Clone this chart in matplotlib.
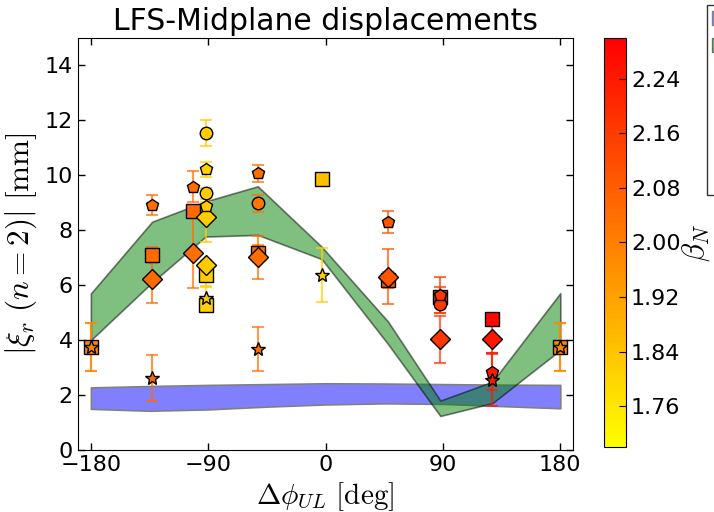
import numpy as np
import matplotlib
matplotlib.use('Agg')
import matplotlib.pyplot as plt
from matplotlib.patches import Patch
from matplotlib.lines import Line2D

plt.rcParams['mathtext.fontset'] = 'cm'
plt.rcParams['font.family'] = ['DejaVu Sans']

# measured points, grouped by marker shape: phase [deg], |xi_r| [mm], error, beta_N
sq_phi = [-180, -133, -102, -92, -92, -52, -3, 48, 88, 128, 180]
sq_xi = [3.76, 7.10, 8.70, 6.37, 5.28, 7.16, 9.87, 6.19, 5.57, 4.76, 3.76]
sq_err = [0.88, 0.30, 0.20, 0.40, 0.20, 0.30, 0.0, 0.30, 0.35, 0.20, 0.88]
sq_beta = [1.98, 2.05, 2.05, 1.82, 1.81, 2.04, 1.85, 2.11, 2.17, 2.28, 1.98]

di_phi = [-133, -102, -92, -92, -52, 48, 88, 128]
di_xi = [6.22, 7.18, 8.49, 6.73, 7.01, 6.31, 4.03, 4.04]
di_err = [0.86, 1.27, 0.93, 0.20, 0.79, 1.00, 0.85, 0.50]
di_beta = [2.05, 2.04, 1.82, 1.82, 2.04, 2.10, 2.17, 2.25]

ci_phi = [-92, -92, -52, 88]
ci_xi = [11.53, 9.34, 8.98, 5.31]
ci_err = [0.47, 0.20, 0.30, 0.31]
ci_beta = [1.82, 1.82, 2.03, 2.17]

pe_phi = [-133, -102, -92, -92, -52, 48, 88, 128]
pe_xi = [8.92, 9.59, 10.22, 8.88, 10.07, 8.31, 5.64, 2.85]
pe_err = [0.37, 0.55, 0.28, 0.15, 0.31, 0.40, 0.67, 0.67]
pe_beta = [2.04, 2.04, 1.81, 1.82, 2.04, 2.10, 2.17, 2.24]

st_phi = [-180, -133, -92, -52, -3, 128, 180]
st_xi = [3.76, 2.62, 5.53, 3.67, 6.37, 2.55, 3.76]
st_err = [0.88, 0.84, 0.42, 0.80, 0.97, 0.95, 0.88]
st_beta = [1.98, 2.05, 1.82, 2.04, 1.81, 2.24, 1.98]

# modelled bands
green_phi = [-180, -133, -92, -52, -3, 48, 88, 128, 180]
green_lo = [4.00, 6.10, 7.77, 7.83, 6.95, 3.85, 1.24, 1.71, 3.64]
green_hi = [5.70, 8.31, 9.05, 9.60, 7.40, 4.67, 1.80, 2.49, 5.71]

blue_phi = [-180, -135, -90, -45, 0, 45, 90, 135, 180]
blue_lo = [1.50, 1.43, 1.48, 1.58, 1.66, 1.70, 1.68, 1.60, 1.52]
blue_hi = [2.28, 2.33, 2.37, 2.40, 2.43, 2.42, 2.40, 2.38, 2.37]

cmap = plt.get_cmap('autumn_r')
norm = matplotlib.colors.Normalize(vmin=1.70, vmax=2.30)

fig = plt.figure(figsize=(7.14, 5.12), dpi=100)
ax = fig.add_axes([0.109, 0.121, 0.694, 0.805])
cax = fig.add_axes([0.846, 0.127, 0.031, 0.799])

ax.fill_between(blue_phi, blue_lo, blue_hi, facecolor=(0.5, 0.5, 1.0),
                edgecolor='0.5', lw=1.2)
ax.fill_between(green_phi, green_lo, green_hi, facecolor='g', edgecolor='k',
                alpha=0.5, lw=1.2)

groups = [
    (sq_phi, sq_xi, sq_err, sq_beta, 's', 10),
    (di_phi, di_xi, di_err, di_beta, 'D', 10),
    (ci_phi, ci_xi, ci_err, ci_beta, 'o', 9),
    (pe_phi, pe_xi, pe_err, pe_beta, 'p', 9),
    (st_phi, st_xi, st_err, st_beta, '*', 10),
]
for phi, xi, err, beta, mk, ms in groups:
    for p, x, e, b in zip(phi, xi, err, beta):
        c = cmap(norm(b))
        if e > 0:
            ax.errorbar(p, x, yerr=e, fmt='none', ecolor=c, alpha=0.7,
                        capsize=4, elinewidth=1.5, capthick=1.5, zorder=3)
        ax.plot(p, x, marker=mk, ms=ms, mfc=c, mec='k', mew=1,
                ls='none', zorder=4)

ax.set_xlim(-190, 190)
ax.set_ylim(0, 15)
ax.set_xticks([-180, -90, 0, 90, 180])
ax.set_yticks(np.arange(0, 15, 2))
ax.tick_params(direction='in', top=True, right=True, labelsize=16,
               length=5, width=1)
ax.set_title('LFS-Midplane displacements', fontsize=21.5)
ax.set_xlabel(r'$\Delta\phi_{UL}\ [\mathrm{deg}]$', fontsize=21)
ax.set_ylabel(r'$|\xi_r\ (n=2)|\ [\mathrm{mm}]$', fontsize=22.5)

sm = matplotlib.cm.ScalarMappable(norm=norm, cmap=cmap)
cb = fig.colorbar(sm, cax=cax, ticks=np.arange(1.76, 2.25, 0.08))
cb.ax.tick_params(direction='in', labelsize=16, length=5)
cb.ax.set_yticklabels(['%.2f' % t for t in np.arange(1.76, 2.25, 0.08)])
cb.set_label(r'$\beta_N$', fontsize=22, labelpad=0)

handles = [Patch(facecolor=(0.5, 0.5, 1.0), edgecolor='0.5'),
           Patch(facecolor='g', edgecolor='k', alpha=0.5)]
labels = ['Vacuum', 'Plasma response']
for mk in ['s', 'D', 'o', 'p', '*']:
    handles.append(Line2D([], [], marker=mk, ls='none', mfc='w', mec='k'))
labels += ['Square', 'Diamond', 'Circle', 'Pentagon', 'Star']
fig.legend(handles, labels, loc='upper left', bbox_to_anchor=(0.990, 0.990),
           borderaxespad=0, borderpad=0.25, handletextpad=0.5,
           fontsize=14, labelspacing=0.4, fancybox=False, edgecolor='k')

fig.savefig('out.png', dpi=100)
